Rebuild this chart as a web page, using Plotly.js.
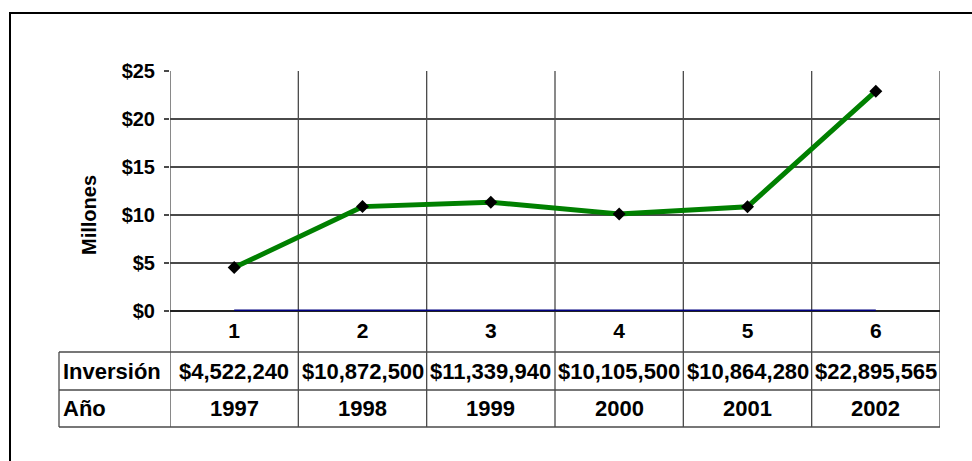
<!DOCTYPE html>
<html>
<head>
<meta charset="utf-8">
<script src="https://cdn.plot.ly/plotly-3.0.1.min.js"></script>
<style>
html,body{margin:0;padding:0;background:#fff;overflow:hidden;width:972px;height:461px;}
#chart{position:absolute;left:0;top:0;width:972px;height:461px;}
#frame{position:absolute;left:9px;top:12px;width:1000px;height:500px;border:2px solid #000;pointer-events:none;}
</style>
</head>
<body>
<div id="chart"></div>
<div id="frame"></div>
<script>
// ---- data ----
var categories = [1, 2, 3, 4, 5, 6];
var inversion = [4522240, 10872500, 11339940, 10105500, 10864280, 22895565];
var anios = [1997, 1998, 1999, 2000, 2001, 2002];
var rowLabels = ['Inversión', 'Año'];
var yTickVals = [0, 5, 10, 15, 20, 25];
var yTickText = ['$0', '$5', '$10', '$15', '$20', '$25'];
var yTitle = 'Millones';

// ---- geometry helpers (pixels -> paper) ----
var W = 972, H = 461;
var M = {l: 170, r: 32, t: 71, b: 150};
var PW = W - M.l - M.r, PH = H - M.t - M.b;
function py(pix) { return (H - M.b - pix) / PH; }   // image y pixel -> paper y
function px(pix) { return (pix - M.l) / PW; }       // image x pixel -> paper x

var FONT = 'Liberation Sans, Arial, sans-serif';
var gridCol = '#4a4a4a';

var traces = [
  {
    x: categories,
    y: anios.map(function (v) { return v / 1e6; }),
    type: 'scatter', mode: 'lines',
    line: {color: '#000080', width: 3},
    hoverinfo: 'skip'
  },
  {
    x: categories,
    y: inversion.map(function (v) { return v / 1e6; }),
    type: 'scatter', mode: 'lines+markers',
    line: {color: '#008000', width: 5},
    marker: {symbol: 'diamond', size: 10, color: '#000'}
  }
];

var rowTop = py(352), rowMid = py(390), rowBot = py(427), tableLeft = px(59);
var shapes = [];
for (var i = 0; i <= categories.length; i++) {
  shapes.push({type: 'line', layer: 'below', xref: 'x', yref: 'paper',
    x0: categories[0] - 0.5 + i, x1: categories[0] - 0.5 + i,
    y0: 1, y1: rowBot, line: {color: gridCol, width: 1.3}});
}
[rowTop, rowMid, rowBot].forEach(function (yy) {
  shapes.push({type: 'line', layer: 'below', xref: 'paper', yref: 'paper', x0: tableLeft, x1: 1, y0: yy, y1: yy,
    line: {color: gridCol, width: 1.3}});
});
shapes.push({type: 'line', layer: 'below', xref: 'paper', yref: 'paper', x0: tableLeft, x1: tableLeft, y0: rowTop, y1: rowBot,
  line: {color: gridCol, width: 1.3}});

var annotations = [];
var rowY = [(rowTop + rowMid) / 2, (rowMid + rowBot) / 2];
var cellFont = {family: FONT, size: 22, color: '#000', weight: 'bold'};
rowLabels.forEach(function (lab, r) {
  annotations.push({xref: 'paper', yref: 'paper', x: px(61), y: rowY[r], xanchor: 'left', yanchor: 'middle',
    text: lab, showarrow: false, font: cellFont});
});
categories.forEach(function (c, k) {
  annotations.push({xref: 'x', yref: 'paper', x: c, y: rowY[0], xanchor: 'center', yanchor: 'middle',
    text: '$' + inversion[k].toLocaleString('en-US'), showarrow: false, font: cellFont});
  annotations.push({xref: 'x', yref: 'paper', x: c, y: rowY[1], xanchor: 'center', yanchor: 'middle',
    text: String(anios[k]), showarrow: false, font: cellFont});
});
annotations.push({xref: 'paper', yref: 'paper', x: px(89), y: py(215), xanchor: 'center', yanchor: 'middle',
  textangle: -90, text: yTitle, showarrow: false,
  font: {family: FONT, size: 20, color: '#000', weight: 'bold'}});

var layout = {
  width: W, height: H,
  margin: M,
  paper_bgcolor: '#fff', plot_bgcolor: '#fff',
  showlegend: false,
  font: {family: FONT, color: '#000'},
  xaxis: {
    range: [0.5, 6.5], tickvals: categories, ticktext: categories.map(String),
    ticks: '', showgrid: false, zeroline: false, showline: false,
    tickfont: {family: FONT, size: 21, color: '#000', weight: 'bold'},
    ticklabelstandoff: 5, fixedrange: true
  },
  yaxis: {
    range: [0, 25], tickvals: yTickVals, ticktext: yTickText,
    ticks: 'outside', ticklen: 5, tickcolor: gridCol, tickwidth: 1.3,
    showgrid: true, gridcolor: gridCol, gridwidth: 1.3,
    zeroline: true, zerolinecolor: '#222', zerolinewidth: 2,
    showline: false,
    tickfont: {family: FONT, size: 20, color: '#000', weight: 'bold'},
    ticklabelstandoff: 5,
    fixedrange: true
  },
  shapes: shapes,
  annotations: annotations
};

Plotly.newPlot('chart', traces, layout, {staticPlot: true, displayModeBar: false});
</script>
</body>
</html>
